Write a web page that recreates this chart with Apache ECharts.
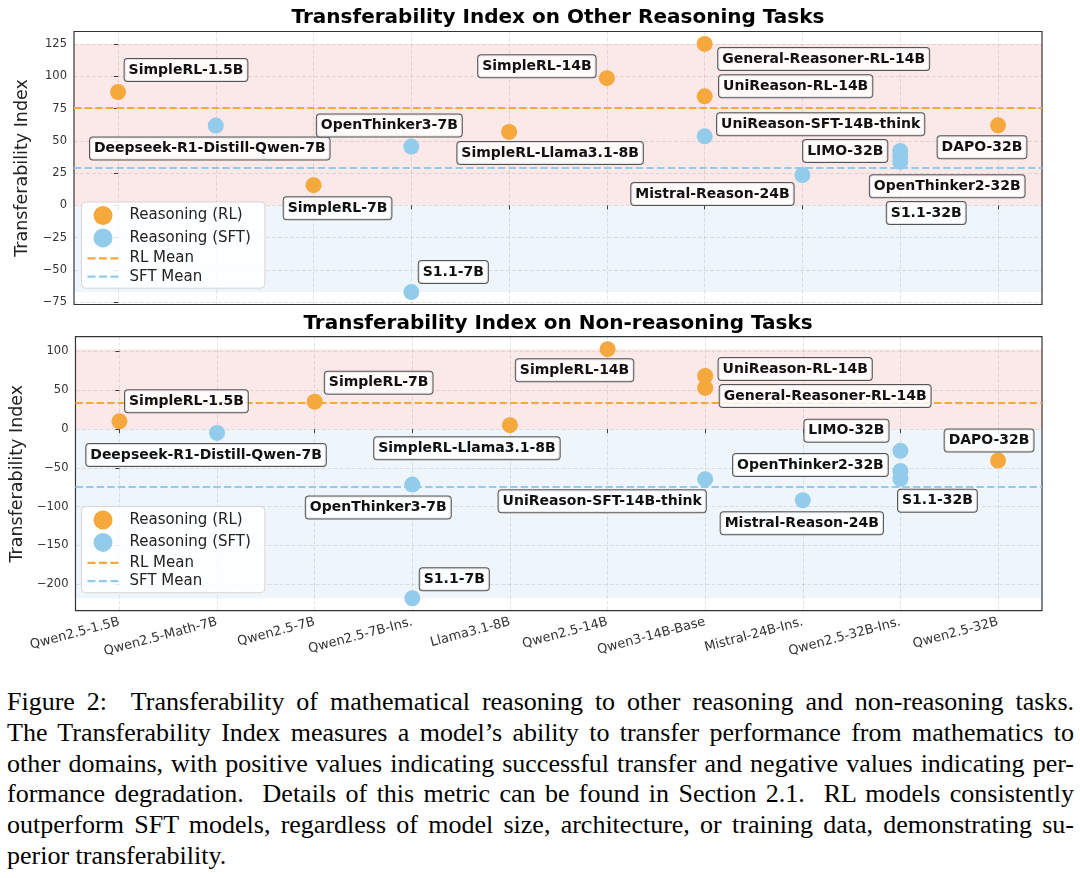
<!DOCTYPE html>
<html>
<head>
<meta charset="utf-8">
<script src="https://cdn.jsdelivr.net/npm/echarts@6/dist/echarts.min.js"></script>
<style>
html,body{margin:0;padding:0;background:#fff;}
#chart{position:absolute;left:0;top:0;width:1080px;height:680px;}
#caption{position:absolute;left:7px;top:687px;width:1067px;font-family:'Liberation Serif','Times New Roman',serif;font-size:26px;line-height:30.8px;color:#000;}
#caption .j{text-align:justify;text-align-last:justify;}
#caption .l{text-align:left;}
</style>
</head>
<body>
<div id="chart"></div>
<div id="caption">
<div class="j">Figure 2: &nbsp;Transferability of mathematical reasoning to other reasoning and non-reasoning tasks.</div>
<div class="j">The Transferability Index measures a model’s ability to transfer performance from mathematics to</div>
<div class="j">other domains, with positive values indicating successful transfer and negative values indicating per-</div>
<div class="j">formance degradation. &nbsp;Details of this metric can be found in Section 2.1. &nbsp;RL models consistently</div>
<div class="j">outperform SFT models, regardless of model size, architecture, or training data, demonstrating su-</div>
<div class="l">perior transferability.</div>
</div>
<script>
// ---------------- data ----------------
const categories = ['Qwen2.5-1.5B','Qwen2.5-Math-7B','Qwen2.5-7B','Qwen2.5-7B-Ins.','Llama3.1-8B','Qwen2.5-14B','Qwen3-14B-Base','Mistral-24B-Ins.','Qwen2.5-32B-Ins.','Qwen2.5-32B'];

const rlModels = ['SimpleRL-1.5B','SimpleRL-7B','SimpleRL-Llama3.1-8B','SimpleRL-14B','General-Reasoner-RL-14B','UniReason-RL-14B','DAPO-32B'];
const rlBase   = ['Qwen2.5-1.5B','Qwen2.5-7B','Llama3.1-8B','Qwen2.5-14B','Qwen3-14B-Base','Qwen3-14B-Base','Qwen2.5-32B'];
const rlOther  = [87.9, 15.7, 57.0, 98.7, 125.3, 84.6, 62.1];
const rlNon    = [10.0, 35.3, 5.0, 103.0, 53.0, 68.5, -40.5];

const sftModels = ['Deepseek-R1-Distill-Qwen-7B','OpenThinker3-7B','S1.1-7B','UniReason-SFT-14B-think','Mistral-Reason-24B','LIMO-32B','OpenThinker2-32B','S1.1-32B'];
const sftBase   = ['Qwen2.5-Math-7B','Qwen2.5-7B-Ins.','Qwen2.5-7B-Ins.','Qwen3-14B-Base','Mistral-24B-Ins.','Qwen2.5-32B-Ins.','Qwen2.5-32B-Ins.','Qwen2.5-32B-Ins.'];
const sftOther  = [61.9, 45.6, -67.3, 53.6, 23.5, 42.2, 38.1, 33.7];
const sftNon    = [-5.0, -71.5, -218.0, -64.6, -91.7, -28.0, -54.0, -64.0];

const yTicksOther = [-75, -50, -25, 0, 25, 50, 75, 100, 125];
const yTicksNon   = [-200, -150, -100, -50, 0, 50, 100];
const titles = ['Transferability Index on Other Reasoning Tasks', 'Transferability Index on Non-reasoning Tasks'];
const legendNames = ['Reasoning (RL)', 'Reasoning (SFT)', 'RL Mean', 'SFT Mean'];

// ---------------- layout (annotation offsets in px, not data) ----------------
const labelOffsets = [
  { rl: [[68,-22],[24,23],[41,21],[-70,-12],[119,15],[91,-10],[-16,22]],
    sft: [[-6,23],[-22,-21],[42,-20],[116,-12],[-90,19],[-55,0],[47,30],[26,51]] },
  { rl: [[67,-20],[64,-19],[-43,23],[-33,21],[120,8],[90,-7],[-9,-20]],
    sft: [[-11,22],[-34,23],[42,-19],[-103,22],[-1,23],[-54,-20],[-90,-6],[37,22]] }
];

const FONT = 'DejaVu Sans';
const ORANGE = '#F5A83C';
const BLUE = '#92CCEA';
const DASH = [7.4, 3.2];
const DASH_ICON = 'path://M0,0h7.4v2h-7.4z M10.6,0h7.4v2h-7.4z M21.2,0h7.4v2h-7.4z';
const grids = [
  { left: 74, width: 968, top: 31.5, height: 273 },
  { left: 74, width: 968, top: 336.7, height: 274 }
];
const legendTops = [202, 506.5];
const titleTops = [8, 314];
const nameGaps = [26, 32];

const fmt = v => String(v).replace('-', '\u2212');
const mean = a => a.reduce((s, v) => s + v, 0) / a.length;

const option = {
  animation: false,
  backgroundColor: '#fff',
  title: [], grid: [], xAxis: [], yAxis: [], legend: [], series: []
};

function labelStyle() {
  return {
    show: true, position: 'inside', formatter: '{b}', align: 'center', verticalAlign: 'middle',
    fontFamily: FONT, fontWeight: 'bold', fontSize: 14, color: '#111', lineHeight: 15,
    backgroundColor: 'rgba(255,255,255,0.82)', borderColor: '#555', borderWidth: 1,
    borderRadius: 3, padding: [4, 4, 3, 4]
  };
}

function panel(g, rlVals, sftVals, ticks) {
  const all = rlVals.concat(sftVals);
  const lo = Math.min(...all), hi = Math.max(...all);
  const pad = (hi - lo) * 0.05;
  option.title.push({
    text: titles[g], left: 558, top: titleTops[g], textAlign: 'center', padding: 0,
    textStyle: { fontFamily: FONT, fontSize: 20, fontWeight: 'bold', color: '#000' }
  });
  option.grid.push(Object.assign({ show: true, borderColor: '#333', borderWidth: 1.2, backgroundColor: 'transparent' }, grids[g]));
  const split = { show: true, lineStyle: { color: 'rgba(0,0,0,0.13)', type: [4, 2], width: 0.8 } };
  const catIdx = categories.map((c, i) => i);
  option.xAxis.push({
    type: 'value', gridIndex: g, min: -0.45, max: 9.45,
    axisLine: { show: false },
    axisTick: { show: true, customValues: catIdx, length: 4, lineStyle: { color: '#333', width: 1 } },
    axisLabel: g === 1 ? {
      show: true, customValues: catIdx, formatter: v => categories[Math.round(v)],
      rotate: 15, fontFamily: FONT, fontSize: 13, color: '#333', margin: 11
    } : { show: false },
    splitLine: split
  });
  option.yAxis.push({
    type: 'value', gridIndex: g, min: lo - pad, max: hi + pad,
    name: 'Transferability Index', nameLocation: 'middle', nameGap: nameGaps[g],
    nameTextStyle: { fontFamily: FONT, fontSize: 17.5, color: '#222' },
    axisLine: { show: false },
    axisTick: { show: true, customValues: ticks, length: 4, lineStyle: { color: '#333', width: 1 } },
    axisLabel: { customValues: ticks, formatter: fmt, fontFamily: FONT, fontSize: 11.5, color: '#333', margin: 7 },
    splitLine: split
  });
  option.legend.push({
    data: [
      { name: legendNames[0], icon: 'circle' },
      { name: legendNames[1], icon: 'circle' },
      { name: legendNames[2], icon: DASH_ICON },
      { name: legendNames[3], icon: DASH_ICON }
    ],
    orient: 'vertical', left: 81.5, top: legendTops[g], itemWidth: 31, itemHeight: 19, itemGap: 3.4,
    padding: [4, 14, 4, 6], backgroundColor: 'rgba(255,255,255,0.85)', borderColor: '#d6d6d6',
    borderWidth: 1, borderRadius: 4, selectedMode: false,
    textStyle: { fontFamily: FONT, fontSize: 15, color: '#222', padding: [0, 0, 0, 6] }
  });
  // shaded regions
  option.series.push({
    type: 'line', name: 'bands', xAxisIndex: g, yAxisIndex: g, data: [], silent: true, z: 1,
    markArea: {
      silent: true,
      data: [
        [{ yAxis: 0, itemStyle: { color: 'rgba(220,50,50,0.115)' } }, { yAxis: hi }],
        [{ yAxis: lo, itemStyle: { color: 'rgba(110,170,215,0.11)' } }, { yAxis: 0 }]
      ]
    }
  });
  // mean lines
  [[legendNames[2], ORANGE, mean(rlVals)], [legendNames[3], BLUE, mean(sftVals)]].forEach(([nm, col, m]) => {
    option.series.push({
      type: 'line', name: nm, xAxisIndex: g, yAxisIndex: g, data: [], symbol: 'none', showSymbol: false, z: 3,
      itemStyle: { color: col }, lineStyle: { color: col, width: 2, type: DASH },
      markLine: {
        silent: true, symbol: 'none', label: { show: false },
        lineStyle: { color: col, width: 2, type: DASH },
        data: [{ yAxis: m }]
      }
    });
  });
  // points
  const mk = (models, bases, vals, offs) => models.map((nm, i) => ({
    name: nm, value: [categories.indexOf(bases[i]), vals[i]], label: { offset: offs[i] }
  }));
  option.series.push({
    type: 'scatter', name: legendNames[0], xAxisIndex: g, yAxisIndex: g, symbolSize: 16, z: 5,
    itemStyle: { color: ORANGE, opacity: 1 }, label: labelStyle(), emphasis: { disabled: true },
    data: mk(rlModels, rlBase, rlVals, labelOffsets[g].rl)
  });
  option.series.push({
    type: 'scatter', name: legendNames[1], xAxisIndex: g, yAxisIndex: g, symbolSize: 16, z: 5,
    itemStyle: { color: BLUE, opacity: 1 }, label: labelStyle(), emphasis: { disabled: true },
    data: mk(sftModels, sftBase, sftVals, labelOffsets[g].sft)
  });
}

panel(0, rlOther, sftOther, yTicksOther);
panel(1, rlNon, sftNon, yTicksNon);

const chart = echarts.init(document.getElementById('chart'), null, { renderer: 'canvas' });
chart.setOption(option);
</script>
</body>
</html>
